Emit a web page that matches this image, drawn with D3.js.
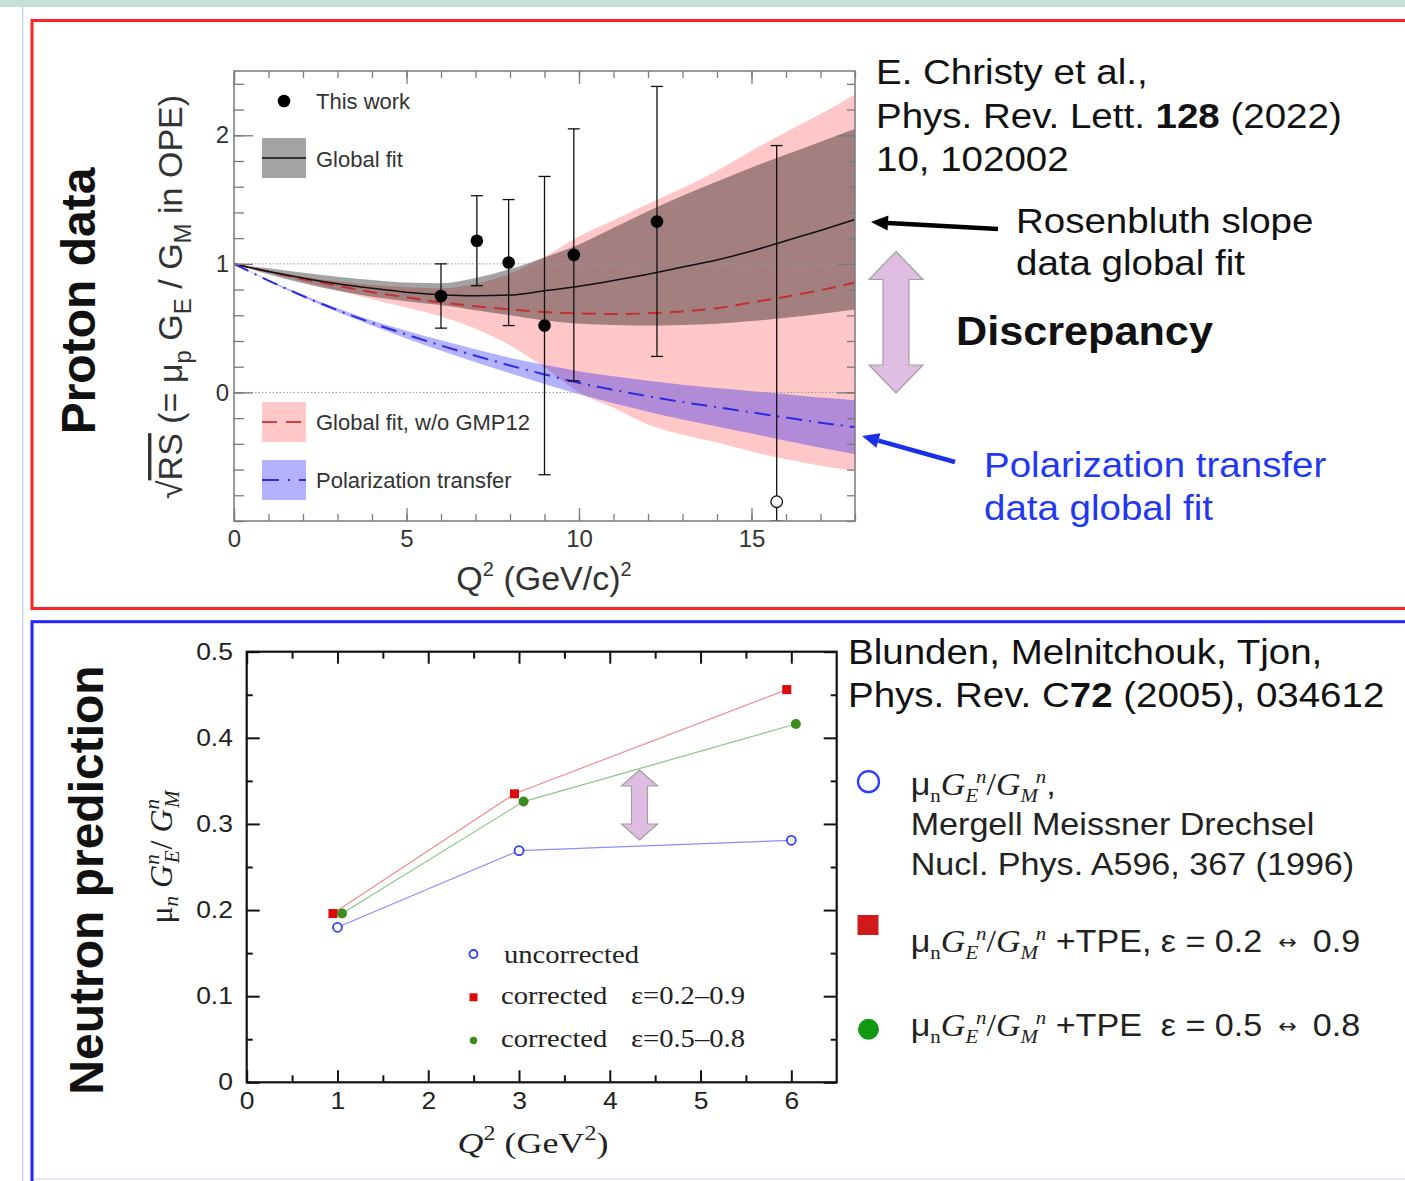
<!DOCTYPE html>
<html>
<head>
<meta charset="utf-8">
<script src="https://cdn.jsdelivr.net/npm/d3@7"></script>
<style>
  html, body { margin: 0; padding: 0; background: #fff; }
  svg { display: block; }
</style>
</head>
<body>
<svg id="fig" width="1405" height="1181"></svg>
<script>
// ---------------- Proton panel: sqrt(RS) vs Q^2 ----------------
const q2Grid = [0, 1, 2, 3, 4, 5, 6, 7, 8, 9, 10, 11, 12, 13, 14, 15, 16, 17, 18];

// Global fit (Rosenbluth slope data), central curve and band
const globalFit     = [1.00, 0.94, 0.89, 0.845, 0.81, 0.78, 0.76, 0.752, 0.757, 0.79, 0.825, 0.87, 0.92, 0.975, 1.03, 1.10, 1.18, 1.26, 1.345];
const globalFitLow  = [1.00, 0.92, 0.85, 0.79, 0.745, 0.71, 0.68, 0.64, 0.60, 0.56, 0.535, 0.525, 0.52, 0.525, 0.535, 0.555, 0.58, 0.61, 0.645];
const globalFitHigh = [1.00, 0.965, 0.93, 0.90, 0.875, 0.855, 0.85, 0.89, 0.96, 1.05, 1.15, 1.28, 1.41, 1.53, 1.64, 1.75, 1.85, 1.95, 2.05];

// Global fit without GMP12
const noGmp12Fit  = [1.00, 0.94, 0.88, 0.83, 0.78, 0.74, 0.70, 0.67, 0.645, 0.625, 0.615, 0.61, 0.615, 0.63, 0.655, 0.70, 0.745, 0.795, 0.855];
const noGmp12Low  = [1.00, 0.93, 0.86, 0.795, 0.725, 0.66, 0.59, 0.495, 0.365, 0.195, 0.0, -0.12, -0.25, -0.33, -0.39, -0.46, -0.52, -0.57, -0.61];
const noGmp12High = [1.00, 0.95, 0.90, 0.865, 0.835, 0.82, 0.81, 0.845, 0.925, 1.055, 1.215, 1.34, 1.465, 1.59, 1.725, 1.88, 2.025, 2.165, 2.32];

// Polarization transfer global fit
const polFit  = [1.00, 0.87, 0.75, 0.64, 0.54, 0.45, 0.365, 0.285, 0.21, 0.14, 0.075, 0.02, -0.03, -0.075, -0.115, -0.155, -0.195, -0.235, -0.27];
const polLow  = [1.00, 0.865, 0.74, 0.625, 0.52, 0.42, 0.325, 0.235, 0.15, 0.065, -0.015, -0.085, -0.15, -0.21, -0.265, -0.32, -0.375, -0.43, -0.48];
const polHigh = [1.00, 0.875, 0.76, 0.655, 0.56, 0.48, 0.405, 0.335, 0.27, 0.215, 0.165, 0.125, 0.09, 0.06, 0.035, 0.01, -0.015, -0.04, -0.06];

// "This work" points
const workQ2    = [6.0, 7.04, 7.96, 9.0, 9.85, 12.26, 15.73];
const workRatio = [0.75, 1.18, 1.01, 0.52, 1.07, 1.33, -0.85];
const workErr   = [0.25, 0.35, 0.49, 1.16, 0.98, 1.05, 2.77];
const workOpen  = [false, false, false, false, false, false, true];

const protonXTicks = [0, 5, 10, 15];
const protonYTicks = [0, 1, 2];

// ---------------- Neutron panel: mu_n GE/GM vs Q^2 ----------------
const uncorrQ2   = [1.0, 3.0, 6.0];
const uncorrVal  = [0.180, 0.269, 0.281];
const corrAQ2    = [0.95, 2.95, 5.95];
const corrAVal   = [0.196, 0.335, 0.456];
const corrBQ2    = [1.05, 3.05, 6.05];
const corrBVal   = [0.196, 0.326, 0.416];

const neutronXTicks = [0, 1, 2, 3, 4, 5, 6];
const neutronYTicks = [0, 0.1, 0.2, 0.3, 0.4, 0.5];

// ------------------------------------------------------------------
const SANS = "'Liberation Sans', Arial, Helvetica, sans-serif";
const SERIF = "'Liberation Serif', 'Times New Roman', serif";
const SYM = "'DejaVu Sans', sans-serif";
const svg = d3.select("#fig");
const defs = svg.append("defs");

// Multi-part text with sub/superscripts; shift > 0 moves down.
function rich(parent, x, y, segs, o) {
  let tf = `translate(${x},${y})`;
  if (o.rotate) tf += ` rotate(${o.rotate})`;
  if (o.sx) tf += ` scale(${o.sx},1)`;
  const t = parent.append("text")
    .attr("transform", tf)
    .attr("font-family", o.family || SANS)
    .attr("font-size", o.size)
    .attr("fill", o.fill || "#111")
    .attr("text-anchor", o.anchor || "start")
    .style("white-space", "pre");
  if (o.weight) t.attr("font-weight", o.weight);
  let prev = 0;
  (typeof segs === "string" ? [{ t: segs }] : segs).forEach(s => {
    const sh = s.shift || 0;
    const ts = t.append("tspan").text(s.t).attr("dy", sh - prev);
    if (s.dx) ts.attr("dx", s.dx);
    if (s.size) ts.attr("font-size", s.size);
    if (s.italic) ts.attr("font-style", "italic");
    if (s.bold) ts.attr("font-weight", "bold");
    if (s.family) ts.attr("font-family", s.family);
    if (s.deco) ts.style("text-decoration", s.deco);
    prev = sh;
  });
  return t;
}

function doubleArrow(parent, cx, yTop, yBot, headW, shaftW, headH) {
  const hw = headW / 2, sw = shaftW / 2;
  const pts = [
    [cx, yTop], [cx + hw, yTop + headH], [cx + sw, yTop + headH],
    [cx + sw, yBot - headH], [cx + hw, yBot - headH], [cx, yBot],
    [cx - hw, yBot - headH], [cx - sw, yBot - headH], [cx - sw, yTop + headH],
    [cx - hw, yTop + headH]
  ];
  parent.append("path").attr("d", "M" + pts.join("L") + "Z")
    .attr("fill", "#dfbde3").attr("stroke", "#a0a0a0").attr("stroke-width", 1.2);
}

function arrow(parent, x1, y1, x2, y2, color, w, hl, hw) {
  const a = Math.atan2(y2 - y1, x2 - x1);
  const bx = x2 - hl * Math.cos(a), by = y2 - hl * Math.sin(a);
  parent.append("line").attr("x1", x1).attr("y1", y1).attr("x2", bx).attr("y2", by)
    .attr("stroke", color).attr("stroke-width", w);
  const nx = -Math.sin(a) * hw, ny = Math.cos(a) * hw;
  parent.append("path")
    .attr("d", `M${x2},${y2}L${bx + nx},${by + ny}L${bx - nx},${by - ny}Z`)
    .attr("fill", color);
}

// ---------------- page frame ----------------
svg.append("rect").attr("x", 0).attr("y", 0).attr("width", 1405).attr("height", 7).attr("fill", "#c6e0d7");
svg.append("line").attr("x1", 22.7).attr("x2", 22.7).attr("y1", 7).attr("y2", 1181)
  .attr("stroke", "#c9d6ec").attr("stroke-width", 1.5);
svg.append("rect").attr("x", 32).attr("y", 20.5).attr("width", 1400).attr("height", 588)
  .attr("fill", "none").attr("stroke", "#ff2222").attr("stroke-width", 3);
svg.append("rect").attr("x", 32).attr("y", 621.7).attr("width", 1400).attr("height", 600)
  .attr("fill", "none").attr("stroke", "#2222ff").attr("stroke-width", 3);
svg.append("line").attr("x1", 34).attr("x2", 1405).attr("y1", 1179).attr("y2", 1179)
  .attr("stroke", "#e3e6f4").attr("stroke-width", 2);

// ================= Proton panel =================
const P = { x0: 234, x1: 855, y0: 71, y1: 521 };
const px = d3.scaleLinear().domain([0, 18]).range([P.x0, P.x1]);
const py = d3.scaleLinear().domain([-1, 2.5]).range([P.y1, P.y0]);
const gp = svg.append("g");

defs.append("clipPath").attr("id", "clipP").append("rect")
  .attr("x", P.x0).attr("y", P.y0).attr("width", P.x1 - P.x0).attr("height", P.y1 - P.y0);
const plotP = gp.append("g").attr("clip-path", "url(#clipP)");

const band = (lo, hi) => d3.area()
  .x((d, i) => px(q2Grid[i])).y0((d, i) => py(lo[i])).y1((d, i) => py(hi[i]))
  .curve(d3.curveMonotoneX);
const curve = vals => d3.line()
  .x((d, i) => px(q2Grid[i])).y((d, i) => py(vals[i]))
  .curve(d3.curveMonotoneX);

const PINK = "rgba(255,0,0,0.22)", GREY = "rgba(0,0,0,0.36)", BLUE = "rgba(0,0,255,0.30)";
plotP.append("path").datum(q2Grid).attr("d", band(noGmp12Low, noGmp12High)).attr("fill", PINK);
plotP.append("path").datum(q2Grid).attr("d", band(globalFitLow, globalFitHigh)).attr("fill", GREY);
plotP.append("path").datum(q2Grid).attr("d", band(polLow, polHigh)).attr("fill", BLUE);

// reference lines at 0 and 1
[0, 1].forEach(v => plotP.append("line")
  .attr("x1", P.x0).attr("x2", P.x1).attr("y1", py(v)).attr("y2", py(v))
  .attr("stroke", "#9a9a9a").attr("stroke-width", 1).attr("stroke-dasharray", "1.5,2"));

plotP.append("path").datum(q2Grid).attr("d", curve(noGmp12Fit)).attr("fill", "none")
  .attr("stroke", "#c43030").attr("stroke-width", 2).attr("stroke-dasharray", "14,8");
plotP.append("path").datum(q2Grid).attr("d", curve(globalFit)).attr("fill", "none")
  .attr("stroke", "#111").attr("stroke-width", 1.5);
plotP.append("path").datum(q2Grid).attr("d", curve(polFit)).attr("fill", "none")
  .attr("stroke", "#2a2ae0").attr("stroke-width", 2).attr("stroke-dasharray", "16,7,2,7");

// data points with error bars
workQ2.forEach((q, i) => {
  const lo = Math.max(workRatio[i] - workErr[i], -1);
  const hi = Math.min(workRatio[i] + workErr[i], 2.5);
  const x = px(q);
  plotP.append("line").attr("x1", x).attr("x2", x).attr("y1", py(lo)).attr("y2", py(hi))
    .attr("stroke", "#111").attr("stroke-width", 1.3);
  [lo, hi].forEach(v => plotP.append("line")
    .attr("x1", x - 6).attr("x2", x + 6).attr("y1", py(v)).attr("y2", py(v))
    .attr("stroke", "#111").attr("stroke-width", 1.3));
  plotP.append("circle").attr("cx", x).attr("cy", py(workRatio[i]))
    .attr("r", workOpen[i] ? 5.8 : 6.3)
    .attr("fill", workOpen[i] ? "#fff" : "#000")
    .attr("stroke", "#111").attr("stroke-width", workOpen[i] ? 1.3 : 0);
});

// axes and frame
const AX = "#7a7a7a";
function styleP(g) {
  g.select(".domain").remove();
  g.selectAll("line").attr("stroke", AX).attr("stroke-width", 1.3);
  g.attr("font-family", SANS).attr("font-size", 24);
  g.selectAll("text").attr("fill", "#333");
}
gp.append("g").attr("transform", `translate(0,${P.y1})`)
  .call(d3.axisBottom(px).tickValues(d3.range(0, 19)).tickSize(-7).tickFormat("")).call(styleP);
gp.append("g").attr("transform", `translate(0,${P.y1})`)
  .call(d3.axisBottom(px).tickValues(protonXTicks).tickSize(-13).tickPadding(9).tickFormat(d3.format("d"))).call(styleP);
gp.append("g").attr("transform", `translate(0,${P.y0})`)
  .call(d3.axisTop(px).tickValues(d3.range(0, 19)).tickSize(-7).tickFormat("")).call(styleP);
gp.append("g").attr("transform", `translate(0,${P.y0})`)
  .call(d3.axisTop(px).tickValues(protonXTicks).tickSize(-13).tickFormat("")).call(styleP);
gp.append("g").attr("transform", `translate(${P.x0},0)`)
  .call(d3.axisLeft(py).tickValues(d3.range(-1, 2.5001, 0.2)).tickSize(-10).tickFormat("")).call(styleP);
gp.append("g").attr("transform", `translate(${P.x0},0)`)
  .call(d3.axisLeft(py).tickValues(protonYTicks).tickSize(-19).tickPadding(5).tickFormat(d3.format("d"))).call(styleP);
gp.append("g").attr("transform", `translate(${P.x1},0)`)
  .call(d3.axisRight(py).tickValues(d3.range(-1, 2.5001, 0.2)).tickSize(-8).tickFormat("")).call(styleP);
gp.append("g").attr("transform", `translate(${P.x1},0)`)
  .call(d3.axisRight(py).tickValues(protonYTicks).tickSize(-18).tickFormat("")).call(styleP);
gp.append("rect").attr("x", P.x0).attr("y", P.y0).attr("width", P.x1 - P.x0).attr("height", P.y1 - P.y0)
  .attr("fill", "none").attr("stroke", AX).attr("stroke-width", 1.5);

// legend
gp.append("circle").attr("cx", 284).attr("cy", 101).attr("r", 6.3).attr("fill", "#000");
rich(gp, 316, 109, "This work", { size: 22, fill: "#333" });
gp.append("rect").attr("x", 262).attr("y", 138).attr("width", 44).attr("height", 40).attr("fill", GREY);
gp.append("line").attr("x1", 262).attr("x2", 306).attr("y1", 158).attr("y2", 158).attr("stroke", "#333").attr("stroke-width", 2);
rich(gp, 316, 166.5, "Global fit", { size: 22, fill: "#333" });
gp.append("rect").attr("x", 262).attr("y", 402).attr("width", 44).attr("height", 40).attr("fill", PINK);
gp.append("line").attr("x1", 262).attr("x2", 306).attr("y1", 422).attr("y2", 422)
  .attr("stroke", "#d04040").attr("stroke-width", 2).attr("stroke-dasharray", "15,9");
rich(gp, 316, 429.5, "Global fit, w/o GMP12", { size: 22, fill: "#333" });
gp.append("rect").attr("x", 262).attr("y", 460).attr("width", 44).attr("height", 40).attr("fill", BLUE);
gp.append("line").attr("x1", 262).attr("x2", 306).attr("y1", 480).attr("y2", 480)
  .attr("stroke", "#2a2ae0").attr("stroke-width", 2).attr("stroke-dasharray", "17,9,2,9");
rich(gp, 316, 487.5, "Polarization transfer", { size: 22, fill: "#333" });

// axis titles
rich(gp, 544, 590, [{ t: "Q" }, { t: "2", size: 20, shift: -14 }, { t: " (GeV/c)" }, { t: "2", size: 20, shift: -14 }],
  { size: 34, fill: "#333", anchor: "middle" });
rich(gp, 182, 297, [
  { t: "√" }, { t: "RS", deco: "overline" }, { t: " (= μ" }, { t: "p", size: 24, shift: 9 },
  { t: " G" }, { t: "E", size: 24, shift: 9 }, { t: " / G" }, { t: "M", size: 24, shift: 9 },
  { t: " in OPE)" }
], { size: 34, fill: "#333", anchor: "middle", rotate: -90 });
rich(svg, 95, 301, "Proton data", { size: 48, weight: "bold", fill: "#111", anchor: "middle", rotate: -90 });

// annotations
const ann = svg.append("g");
rich(ann, 876, 84, "E. Christy et al.,", { size: 35, sx: 1.1 });
rich(ann, 876, 127.5, [{ t: "Phys. Rev. Lett. " }, { t: "128", bold: true }, { t: " (2022)" }], { size: 35, sx: 1.1 });
rich(ann, 876, 171, "10, 102002", { size: 35, sx: 1.1 });
rich(ann, 1016, 232.5, "Rosenbluth slope", { size: 35, sx: 1.1 });
rich(ann, 1016, 275, "data global fit", { size: 35, sx: 1.1 });
arrow(ann, 998, 229, 871, 222, "#000", 4.5, 17, 7.5);
doubleArrow(ann, 896, 251.5, 393, 54, 26, 28);
rich(ann, 956, 345, "Discrepancy", { size: 40, sx: 1.08, weight: "bold" });
arrow(ann, 955, 462, 862, 436, "#1a30e8", 4.5, 17, 7.5);
rich(ann, 984, 476.5, "Polarization transfer", { size: 35, sx: 1.1, fill: "#2238f0" });
rich(ann, 984, 520, "data global fit", { size: 35, sx: 1.1, fill: "#2238f0" });

// ================= Neutron panel =================
const N = { x0: 246.7, x1: 836.7, y0: 651.7, y1: 1082.3 };
const nx = d3.scaleLinear().domain([0, 6.5]).range([N.x0, N.x1]);
const ny = d3.scaleLinear().domain([0, 0.5]).range([N.y1, N.y0]);
const gn = svg.append("g");
const NSX = 1.15;

function styleN(g) {
  g.select(".domain").remove();
  g.selectAll("line").attr("stroke", "#111").attr("stroke-width", 2);
  g.attr("font-family", SANS).attr("font-size", 23);
  g.selectAll("text").attr("fill", "#222");
}
gn.append("g").attr("transform", `translate(0,${N.y1})`)
  .call(d3.axisBottom(nx).tickValues(d3.range(0.5, 6.5, 1)).tickSize(-7).tickFormat("")).call(styleN);
const nxAxis = gn.append("g").attr("transform", `translate(0,${N.y1})`)
  .call(d3.axisBottom(nx).tickValues(neutronXTicks).tickSize(-12).tickPadding(10).tickFormat(d3.format("d"))).call(styleN);
gn.append("g").attr("transform", `translate(0,${N.y0})`)
  .call(d3.axisTop(nx).tickValues(d3.range(0.5, 6.5, 1)).tickSize(-7).tickFormat("")).call(styleN);
gn.append("g").attr("transform", `translate(0,${N.y0})`)
  .call(d3.axisTop(nx).tickValues(neutronXTicks).tickSize(-12).tickFormat("")).call(styleN);
gn.append("g").attr("transform", `translate(${N.x0},0)`)
  .call(d3.axisLeft(ny).tickValues(d3.range(0.05, 0.5, 0.1)).tickSize(-6).tickFormat("")).call(styleN);
const nyAxis = gn.append("g").attr("transform", `translate(${N.x0},0)`)
  .call(d3.axisLeft(ny).tickValues(neutronYTicks).tickSize(-13).tickPadding(12).tickFormat(d => d === 0 ? "0" : d3.format(".1f")(d))).call(styleN);
gn.append("g").attr("transform", `translate(${N.x1},0)`)
  .call(d3.axisRight(ny).tickValues(d3.range(0.05, 0.5, 0.1)).tickSize(-6).tickFormat("")).call(styleN);
gn.append("g").attr("transform", `translate(${N.x1},0)`)
  .call(d3.axisRight(ny).tickValues(neutronYTicks).tickSize(-13).tickFormat("")).call(styleN);
nxAxis.selectAll("text").attr("transform", `scale(${NSX},1)`);
nyAxis.selectAll("text").attr("transform", `scale(${NSX},1)`);
gn.append("rect").attr("x", N.x0).attr("y", N.y0).attr("width", N.x1 - N.x0).attr("height", N.y1 - N.y0)
  .attr("fill", "none").attr("stroke", "#111").attr("stroke-width", 2.2);

// series lines
const nline = xs => d3.line().x((d, i) => nx(xs[i])).y(d => ny(d));
gn.append("path").datum(uncorrVal).attr("d", nline(uncorrQ2)).attr("fill", "none").attr("stroke", "#8c8cff").attr("stroke-width", 1.2);
gn.append("path").datum(corrAVal).attr("d", nline(corrAQ2)).attr("fill", "none").attr("stroke", "#f08c8c").attr("stroke-width", 1.2);
gn.append("path").datum(corrBVal).attr("d", nline(corrBQ2)).attr("fill", "none").attr("stroke", "#86c886").attr("stroke-width", 1.2);

// markers
uncorrVal.forEach((v, i) => gn.append("circle").attr("cx", nx(uncorrQ2[i])).attr("cy", ny(v)).attr("r", 4.5)
  .attr("fill", "#fff").attr("stroke", "#3040f0").attr("stroke-width", 1.8));
corrAVal.forEach((v, i) => gn.append("rect").attr("x", nx(corrAQ2[i]) - 4.5).attr("y", ny(v) - 4.5)
  .attr("width", 9).attr("height", 9).attr("fill", "#dd0a0a"));
corrBVal.forEach((v, i) => gn.append("circle").attr("cx", nx(corrBQ2[i])).attr("cy", ny(v)).attr("r", 5)
  .attr("fill", "#3c8c20"));

doubleArrow(gn, 639.5, 770, 840, 36, 16, 16);

// in-plot legend
gn.append("circle").attr("cx", 473.5).attr("cy", 954).attr("r", 4).attr("fill", "#fff").attr("stroke", "#3040f0").attr("stroke-width", 1.8);
rich(gn, 504, 962.5, "uncorrected", { size: 26, sx: 1.1, family: SERIF, fill: "#222" });
gn.append("rect").attr("x", 469.5).attr("y", 993.3).attr("width", 8).attr("height", 8).attr("fill", "#dd0a0a");
rich(gn, 501, 1003.5, "corrected", { size: 26, sx: 1.1, family: SERIF, fill: "#222" });
rich(gn, 631, 1003.5, "ε=0.2–0.9", { size: 26, sx: 1.1, family: SERIF, fill: "#222" });
gn.append("circle").attr("cx", 473.5).attr("cy", 1040.5).attr("r", 3.7).attr("fill", "#3c8c20");
rich(gn, 501, 1046.5, "corrected", { size: 26, sx: 1.1, family: SERIF, fill: "#222" });
rich(gn, 631, 1046.5, "ε=0.5–0.8", { size: 26, sx: 1.1, family: SERIF, fill: "#222" });

// axis titles
rich(gn, 533, 1153, [{ t: "Q", italic: true }, { t: "2", size: 20, shift: -13 }, { t: " (GeV" }, { t: "2", size: 20, shift: -13 }, { t: ")" }],
  { size: 30, sx: 1.2, family: SERIF, fill: "#222", anchor: "middle" });
rich(gn, 172, 857, [
  { t: "μ" }, { t: "n", size: 21, italic: true, shift: 6 },
  { t: " G", italic: true }, { t: "n", size: 21, italic: true, shift: -13 }, { t: "E", size: 21, italic: true, shift: 7, dx: -9 },
  { t: "/ ", dx: 1 }, { t: "G", italic: true }, { t: "n", size: 21, italic: true, shift: -13 }, { t: "M", size: 21, italic: true, shift: 7, dx: -9 }
], { size: 32, family: SERIF, fill: "#222", anchor: "middle", rotate: -90 });
rich(svg, 103, 880, "Neutron prediction", { size: 48, weight: "bold", fill: "#111", anchor: "middle", rotate: -90 });

// references and marker key
const key = svg.append("g");
rich(key, 848, 663.5, "Blunden, Melnitchouk, Tjon,", { size: 35, sx: 1.1 });
rich(key, 848, 707, [{ t: "Phys. Rev. C" }, { t: "72", bold: true }, { t: " (2005), 034612" }], { size: 35, sx: 1.1 });

const ratioSegs = tail => [
  { t: "μ", family: SANS, size: 31 }, { t: "n", size: 19, shift: 7 },
  { t: "G", italic: true }, { t: "E", italic: true, size: 19, shift: 7 }, { t: "n", italic: true, size: 19, shift: -12, dx: -2 },
  { t: "/" }, { t: "G", italic: true }, { t: "M", italic: true, size: 19, shift: 7 }, { t: "n", italic: true, size: 19, shift: -12, dx: -2 }
].concat(tail);

key.append("circle").attr("cx", 868.5).attr("cy", 781.7).attr("r", 10.5).attr("fill", "none").attr("stroke", "#2a3cff").attr("stroke-width", 2.3);
rich(key, 910.7, 795, ratioSegs([{ t: ",", family: SANS, size: 31 }]), { size: 31, sx: 1.1, family: SERIF, fill: "#222" });
rich(key, 910.7, 835, "Mergell Meissner Drechsel", { size: 31, sx: 1.1, fill: "#222" });
rich(key, 910.7, 875, "Nucl. Phys. A596, 367 (1996)", { size: 31, sx: 1.1, fill: "#222" });

key.append("rect").attr("x", 857.5).attr("y", 915).attr("width", 21).attr("height", 20).attr("fill", "#d01a1a");
rich(key, 910.7, 951.5, ratioSegs([
  { t: " +TPE, ε = 0.2 ", family: SANS, size: 31 }, { t: "↔", family: SYM, size: 20, shift: -3, dx: 6 }, { t: " 0.9", family: SANS, size: 31, shift: 0, dx: 6 }
]), { size: 31, sx: 1.1, family: SERIF, fill: "#222" });

key.append("circle").attr("cx", 868.5).attr("cy", 1029.3).attr("r", 10.5).attr("fill", "#119a11");
rich(key, 910.7, 1035.5, ratioSegs([
  { t: " +TPE  ε = 0.5 ", family: SANS, size: 31 }, { t: "↔", family: SYM, size: 20, shift: -3, dx: 6 }, { t: " 0.8", family: SANS, size: 31, shift: 0, dx: 6 }
]), { size: 31, sx: 1.1, family: SERIF, fill: "#222" });
</script>
</body>
</html>
